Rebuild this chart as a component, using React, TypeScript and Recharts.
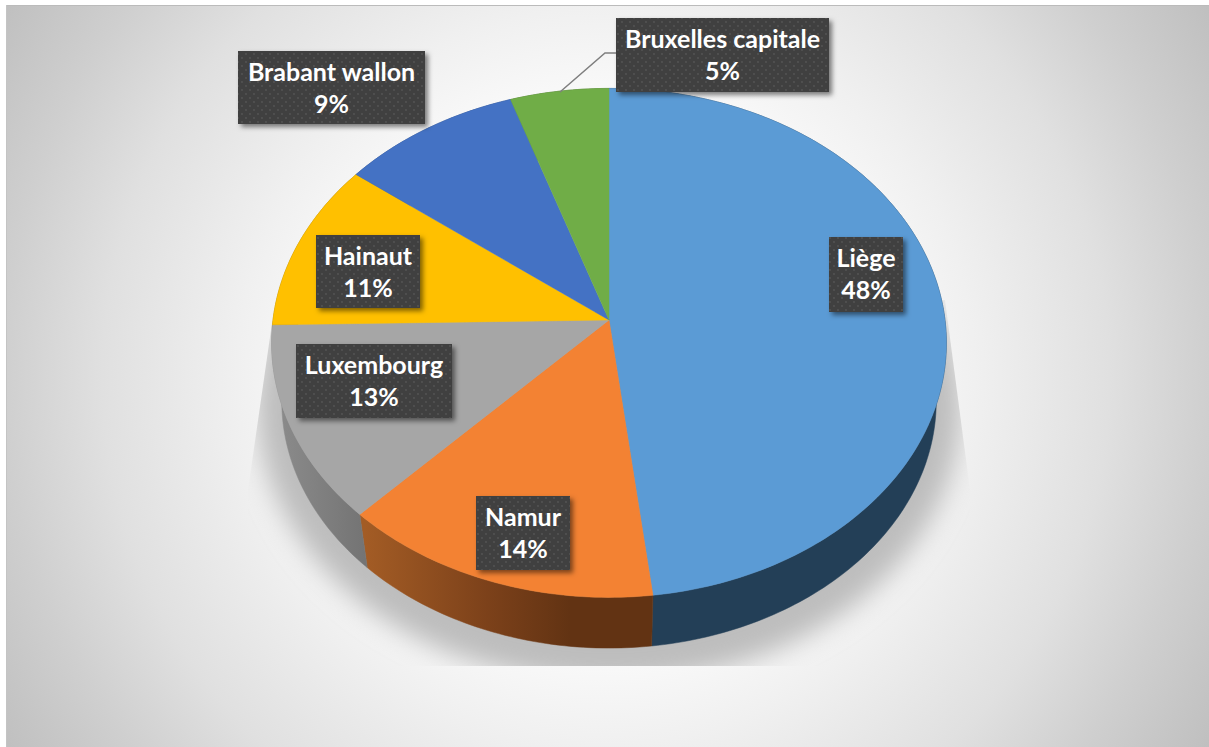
import { Pie, PieChart } from "recharts";

const WIDTH = 1209;
const HEIGHT = 747;

const regions = ["Liège", "Namur", "Luxembourg", "Hainaut", "Brabant wallon", "Bruxelles capitale"];
const shares = [48.1, 14.1, 12.5, 10.7, 9.45, 5.15];
const topColors = ["#5B9BD5", "#F38233", "#A6A6A6", "#FFC000", "#4472C4", "#70AD47"];
const wallColors = ["#233F57", "url(#wallOrange)", "url(#wallGrey)", "#997300", "#264478", "#43682B"];

// label boxes sit wherever Excel left them: left, top, right, bottom
const labelBoxes = [
    [829, 237, 903, 312],
    [476, 496, 570, 570],
    [296, 344, 452, 418],
    [316, 235, 420, 308],
    [238, 51, 425, 124],
    [616, 18, 829, 92],
];

const rows = regions.map((name, i) => ({
    name,
    value: shares[i],
    topFill: topColors[i],
    wallFill: wallColors[i],
}));

// perspective of the tilted disc
const TILT = 0.09;
const SQUASH = 0.7513;
const BASE_SCALE = 0.97;
const BASE_DROP = 59;

function project(cx: number, cy: number, r: number, deg: number) {
    const a = (deg * Math.PI) / 180;
    const w = 1 + TILT * Math.sin(a);
    return { x: cx + (r * Math.cos(a)) / w, y: cy - (r * SQUASH * Math.sin(a)) / w };
}

function arcPoints(cx: number, cy: number, r: number, from: number, to: number) {
    const steps = Math.max(2, Math.ceil(Math.abs(to - from)));
    const pts = [];
    for (let i = 0; i <= steps; i++) {
        pts.push(project(cx, cy, r, from + ((to - from) * i) / steps));
    }
    return pts;
}

const toPath = (pts: { x: number; y: number }[]) =>
    pts.map((p, i) => `${i ? "L" : "M"}${p.x.toFixed(2)} ${p.y.toFixed(2)}`).join(" ");

function TopSlice(props: any) {
    const { cx, cy, outerRadius, startAngle, endAngle } = props;
    const fill = props.topFill ?? props.payload?.topFill;
    const arc = arcPoints(cx, cy, outerRadius, startAngle, endAngle);
    return <path d={`M${cx} ${cy} ${toPath(arc).replace("M", "L")} Z`} fill={fill} stroke={fill} strokeWidth={0.5} />;
}

function WallSlice(props: any) {
    const { cx, cy, outerRadius, startAngle, endAngle } = props;
    const fill = props.wallFill ?? props.payload?.wallFill;
    const top = arcPoints(cx, cy, outerRadius, startAngle, endAngle);
    const base = arcPoints(cx, cy + BASE_DROP, outerRadius * BASE_SCALE, endAngle, startAngle);
    return <path d={`${toPath(top)} ${toPath(base).replace("M", "L")} Z`} fill={fill} stroke={fill} strokeWidth={0.5} />;
}

function renderLabel(props: any) {
    const i = props.index;
    const [l, t, r, b] = labelBoxes[i];
    const mid = (l + r) / 2;
    return (
        <g key={i}>
            {i === 5 && <polyline points="560,92 605,53 617,53" fill="none" stroke="#7F7F7F" strokeWidth={1.5} />}
            <rect x={l} y={t} width={r - l} height={b - t} fill="#404040" filter="url(#boxShadow)" />
            <rect x={l} y={t} width={r - l} height={b - t} fill="url(#dots)" />
            <text x={mid} y={t + 30} textAnchor="middle" fill="#fff" fontFamily="Lato" fontWeight={700} fontSize={25}>
                {regions[i]}
            </text>
            <text x={mid} y={t + 62} textAnchor="middle" fill="#fff" fontFamily="Lato" fontWeight={700} fontSize={25}>
                {Math.round(shares[i])}%
            </text>
        </g>
    );
}

export default function App() {
    return (
        <div style={{ position: "absolute", left: 0, top: 0, width: WIDTH, height: HEIGHT, background: "#fff", overflow: "hidden" }}>
            <svg width={WIDTH} height={HEIGHT} style={{ position: "absolute", left: 0, top: 0 }}>
                <defs>
                    <radialGradient id="backdrop" gradientUnits="userSpaceOnUse" cx="606" cy="376" r="709">
                        <stop offset="0%" stopColor="#ffffff" />
                        <stop offset="40%" stopColor="#f9f9f9" />
                        <stop offset="52%" stopColor="#f0f0f0" />
                        <stop offset="71%" stopColor="#e0e0e0" />
                        <stop offset="85%" stopColor="#cfcfcf" />
                        <stop offset="100%" stopColor="#bfbfbf" />
                    </radialGradient>
                    <filter id="softShadow" x="-20%" y="-20%" width="140%" height="140%">
                        <feGaussianBlur stdDeviation="13" />
                    </filter>
                    <clipPath id="shadowFan">
                        <polygon points="272,323 248,490 248,666 970,666 970,490 945,300" />
                    </clipPath>
                </defs>
                <rect x={6} y={5} width={WIDTH - 6} height={HEIGHT - 5} fill="url(#backdrop)" />
                <line x1={6} y1={5.5} x2={WIDTH} y2={5.5} stroke="#bbbbbb" />
                <line x1={6.5} y1={5} x2={6.5} y2={HEIGHT} stroke="#c4c4c4" />
                <g clipPath="url(#shadowFan)">
                    <ellipse cx={609} cy={407} rx={352} ry={276} fill="#bdbdbd" filter="url(#softShadow)" />
                </g>
            </svg>
            <div style={{ position: "absolute", left: 0, top: 0 }}>
                <PieChart width={WIDTH} height={HEIGHT} margin={{ top: 0, right: 0, bottom: 0, left: 0 }}>
                    <defs>
                        <linearGradient id="wallOrange" gradientUnits="userSpaceOnUse" x1="365" y1="0" x2="570" y2="0">
                            <stop offset="0%" stopColor="#A35C25" />
                            <stop offset="60%" stopColor="#7C411A" />
                            <stop offset="100%" stopColor="#623313" />
                        </linearGradient>
                        <linearGradient id="wallGrey" gradientUnits="userSpaceOnUse" x1="275" y1="0" x2="368" y2="0">
                            <stop offset="0%" stopColor="#8C8C8C" />
                            <stop offset="100%" stopColor="#737373" />
                        </linearGradient>
                        <pattern id="dots" width="8" height="8" patternUnits="userSpaceOnUse">
                            <circle cx="2" cy="2" r="0.9" fill="#555555" />
                            <circle cx="6" cy="6" r="0.9" fill="#555555" />
                        </pattern>
                        <filter id="boxShadow" x="-10%" y="-10%" width="125%" height="130%">
                            <feDropShadow dx="3" dy="3" stdDeviation="2.5" floodColor="#000" floodOpacity="0.5" />
                        </filter>
                    </defs>
                    <Pie
                        data={rows}
                        dataKey="value"
                        nameKey="name"
                        cx={609}
                        cy={320}
                        outerRadius={336}
                        startAngle={90}
                        endAngle={-270}
                        stroke="none"
                        label={false}
                        labelLine={false}
                        isAnimationActive={false}
                        shape={WallSlice}
                        inactiveShape={WallSlice}
                    />
                    <Pie
                        data={rows}
                        dataKey="value"
                        nameKey="name"
                        cx={609}
                        cy={320}
                        outerRadius={336}
                        startAngle={90}
                        endAngle={-270}
                        stroke="none"
                        label={renderLabel}
                        labelLine={false}
                        isAnimationActive={false}
                        shape={TopSlice}
                        inactiveShape={TopSlice}
                    />
                </PieChart>
            </div>
        </div>
    );
}
